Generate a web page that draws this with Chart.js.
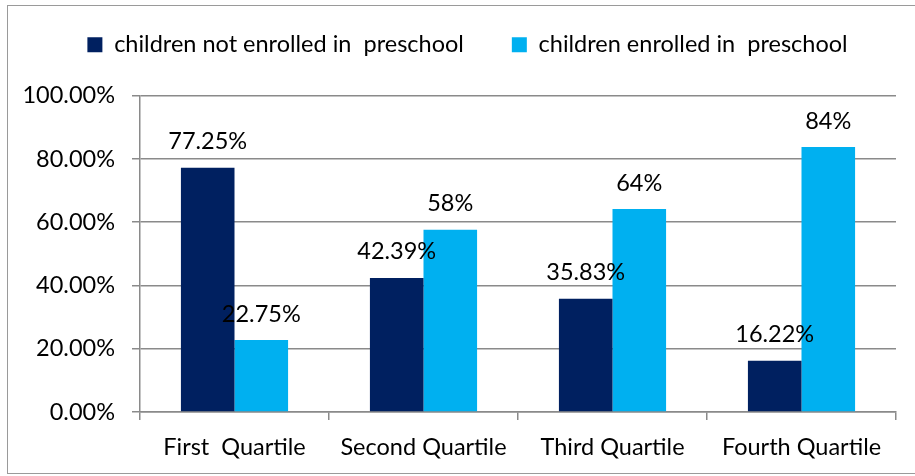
<!DOCTYPE html>
<html>
<head>
<meta charset="utf-8">
<script src="https://cdn.jsdelivr.net/npm/chart.js@4.4.1/dist/chart.umd.min.js"></script>
<style>
    html, body { margin: 0; padding: 0; background: #fff; overflow: hidden; }
    #wrap { position: relative; width: 915px; height: 476px; }
    #frame { position: absolute; left: 7px; top: 5px; width: 930px; height: 467px; border: 1px solid #9a9a9a; }
    #chart { position: absolute; left: 0; top: 0; }
</style>
</head>
<body>
<div id="wrap">
    <div id="frame"></div>
    <canvas id="chart" width="915" height="476"></canvas>
</div>
<script>
const categories = ['First  Quartile', 'Second Quartile', 'Third Quartile', 'Fourth Quartile'];
const notEnrolled = [77.25, 42.39, 35.83, 16.22];
const enrolled = [22.75, 57.61, 64.17, 83.78];
const notEnrolledLabels = ['77.25%', '42.39%', '35.83%', '16.22%'];
const enrolledLabels = ['22.75%', '58%', '64%', '84%'];
const yTicks = [0, 20, 40, 60, 80, 100];

const fontName = 'Lato, "Liberation Sans", sans-serif';
const fontSize = 23.5;

// draws the value text above each bar
const barLabels = {
    id: 'barLabels',
    afterDatasetsDraw(chart) {
        const ctx = chart.ctx;
        ctx.save();
        ctx.font = fontSize + 'px ' + fontName;
        ctx.fillStyle = '#000';
        ctx.textAlign = 'center';
        ctx.textBaseline = 'middle';
        chart.data.datasets.forEach(function (ds, i) {
            const meta = chart.getDatasetMeta(i);
            meta.data.forEach(function (bar, j) {
                ctx.fillText(ds.valueLabels[j], bar.x, bar.y - 26);
            });
        });
        ctx.restore();
    }
};

const ctx = document.getElementById('chart').getContext('2d');
const chart = new Chart(ctx, {
    type: 'bar',
    data: {
        labels: categories,
        datasets: [{
            label: 'children not enrolled in  preschool',
            data: notEnrolled,
            valueLabels: notEnrolledLabels,
            backgroundColor: '#002060'
        }, {
            label: 'children enrolled in  preschool',
            data: enrolled,
            valueLabels: enrolledLabels,
            backgroundColor: '#00B0F0'
        }]
    },
    options: {
        responsive: false,
        animation: false,
        layout: { padding: { top: -15, right: 0, bottom: 0, left: 20 } },
        datasets: {
            bar: { categoryPercentage: 0.567, barPercentage: 1 }
        },
        plugins: {
            tooltip: { enabled: false },
            legend: {
                position: 'top',
                labels: {
                    font: { family: fontName, size: fontSize },
                    color: '#000',
                    boxWidth: 15,
                    boxHeight: 15,
                    padding: 48
                }
            },
            // empty spacer between legend and plot
            subtitle: {
                display: true,
                text: '',
                weight: 500,
                font: { size: 1 },
                padding: { top: 0, bottom: 28 }
            }
        },
        scales: {
            x: {
                grid: { drawOnChartArea: false, drawTicks: true, tickLength: 8, color: '#8a8a8a', lineWidth: 1.5 },
                border: { color: '#8a8a8a', width: 1.5 },
                ticks: { color: '#000', font: { family: fontName, size: fontSize }, padding: 13 },
                afterFit(scale) { scale.height = 64; }
            },
            y: {
                min: 0,
                max: 100,
                afterBuildTicks(scale) { scale.ticks = yTicks.map(v => ({ value: v })); },
                grid: { color: '#8a8a8a', lineWidth: 1.5, tickLength: 8 },
                border: { color: '#8a8a8a', width: 1.5 },
                ticks: {
                    color: '#000',
                    font: { family: fontName, size: fontSize },
                    padding: 17,
                    callback: v => v.toFixed(2) + '%'
                },
                afterFit(scale) { scale.width = 120; }
            },
            // blank right axis, only reserves the space right of the plot
            yRight: {
                position: 'right',
                display: true,
                grid: { display: false },
                border: { display: false },
                ticks: { display: false },
                afterFit(scale) { scale.width = 19; }
            }
        }
    },
    plugins: [barLabels]
});
</script>
</body>
</html>
